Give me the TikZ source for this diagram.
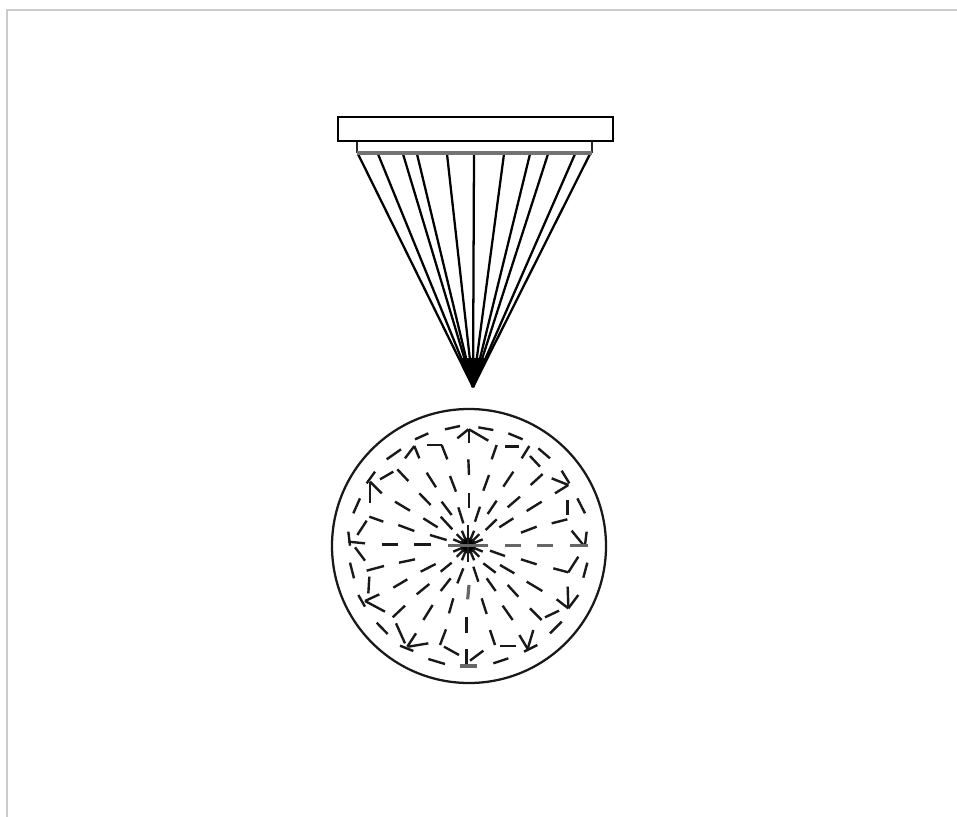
\documentclass[tikz,border=0pt]{standalone}
\tikzset{
 frameline/.style={draw=black!20,line width=1.1pt},
 bar/.style={draw=black,line width=2pt,fill=white},
 ray/.style={draw=black,line width=1.7pt},
 dsh/.style={draw=black!90,line width=1.8pt},
 dshg/.style={draw=black!60,line width=2.4pt},
}
\begin{document}
\begin{tikzpicture}[x=0.75pt,y=-0.75pt]
\useasboundingbox (0,0) rectangle (957,817);
\draw[frameline] (7,817) -- (7,10) -- (957,10);
% fan
\coordinate (apex) at (473,387);
\foreach \x in {358,378,403,417,447,474,504,530,548,575,590}
  \draw[ray] (\x,154) -- (apex);
\fill (458,358) -- (488,358) -- (apex) -- cycle;
\draw[draw=black!85,line width=1.8pt,fill=white] (357,141) rectangle (592,152);
\draw[draw=black!55,line width=2.8pt] (357,153) -- (592,153);
\draw[bar] (338,117) rectangle (613,141);
% sphere
\draw[line width=1.7pt,black!90] (469,546) circle (137);
\fill (468,545.5) circle (8);
\foreach \a in {22.5,45,...,157.5,202.5,225,...,337.5}
  \draw[dsh] ({468+6*cos(\a)},{545.5+6*sin(\a)}) -- ({468+16*cos(\a)},{545.5+16*sin(\a)});
\draw[dsh] (468,545) -- (468,525);
\draw[dsh] (468,545) -- (468,562);
\draw[dshg] (448,545.5) -- (488,545.5);
\begin{scope}[shift={(320,400)},x=0.25pt,y=-0.25pt]
\foreach \xa/\ya/\xb/\yb in {
375/88/420/78,475/82/520/90,565/100/608/118,555/140/598/140,
412/115/445/88,447/88/447/130,447/88/505/122,
285/118/325/100,200/178/243/148,255/175/283/138,283/138/298/175,320/135/365/135,365/135/382/178,
605/175/628/138,630/168/660/200,655/145/690/175,515/178/530/135,445/178/447/225,
140/250/165/215,150/245/185/280,150/245/150/310,180/238/220/215,232/208/265/243,
320/218/348/262,390/228/408/275,490/272/507/225,550/260/580/215,632/255/668/222,
695/235/745/255,705/280/745/255,725/212/748/250,
772/295/795/340,742/300/742/345,695/370/742/358,755/392/790/435,800/395/795/435,
100/340/120/295,112/405/140/362,148/350/190/365,85/395/90/437,85/425/135/430,
225/305/270/332,298/280/332/315,365/305/395/345,415/322/430/370,447/280/447/325,465/365/480/320,
503/342/530/302,563/322/600/290,620/333/665/305,
235/375/283/393,310/355/353/382,362/350/397/388,497/390/530/358,538/382/580/355,603/398/650/380,
330/405/380/420,185/433/235/433,283/433/332/433}
  \draw[dsh] (\xa,\ya) -- (\xb,\yb);
\foreach \xa/\ya/\xb/\yb in {750/437/805/437,555/437/603/437,652/437/700/437}
  \draw[dshg] (\xa,\ya) -- (\xb,\yb);
\end{scope}
\begin{scope}[shift={(320,540)},x=0.25pt,y=-0.25pt]
\foreach \xa/\ya/\xb/\yb in {
105/22/135/62,90/68/102/115,140/92/192/78,148/110/145/160,115/165/135/200,135/183/178/163,135/183/195/215,
237/68/285/58,302/95/347/72,362/95/395/68,220/143/262/118,290/163/328/132,362/153/392/115,412/130/430/85,
460/80/475/125,500/115/527/153,563/135/595/170,620/125/667/153,603/58/650/73,510/32/555/48,
490/70/527/98,540/75/583/100,700/85/745/97,745/97/775/50,802/68/790/113,743/140/745/200,710/178/745/205,775/165/745/205,
630/205/665/240,675/232/717/212,690/280/725/245,548/197/578/240,485/175/500/222,400/175/387/220,338/195/310/240,
255/197/218/232,170/248/203/282,228/250/255/310,240/317/280/333,262/320/288/280,265/320/325/310,378/268/360/315,
440/230/440/280,510/270/525/315,540/318/588/318,598/285/625/330,640/270/622/330,612/335/652/315,372/320/417/345,
440/328/440/378,450/362/490/332,325/357/375/372,520/370/565/355}
  \draw[dsh] (\xa,\ya) -- (\xb,\yb);
\foreach \xa/\ya/\xb/\yb in {447/135/443/178,420/378/470/378}
  \draw[dshg] (\xa,\ya) -- (\xb,\yb);
\end{scope}
\end{tikzpicture}
\end{document}
